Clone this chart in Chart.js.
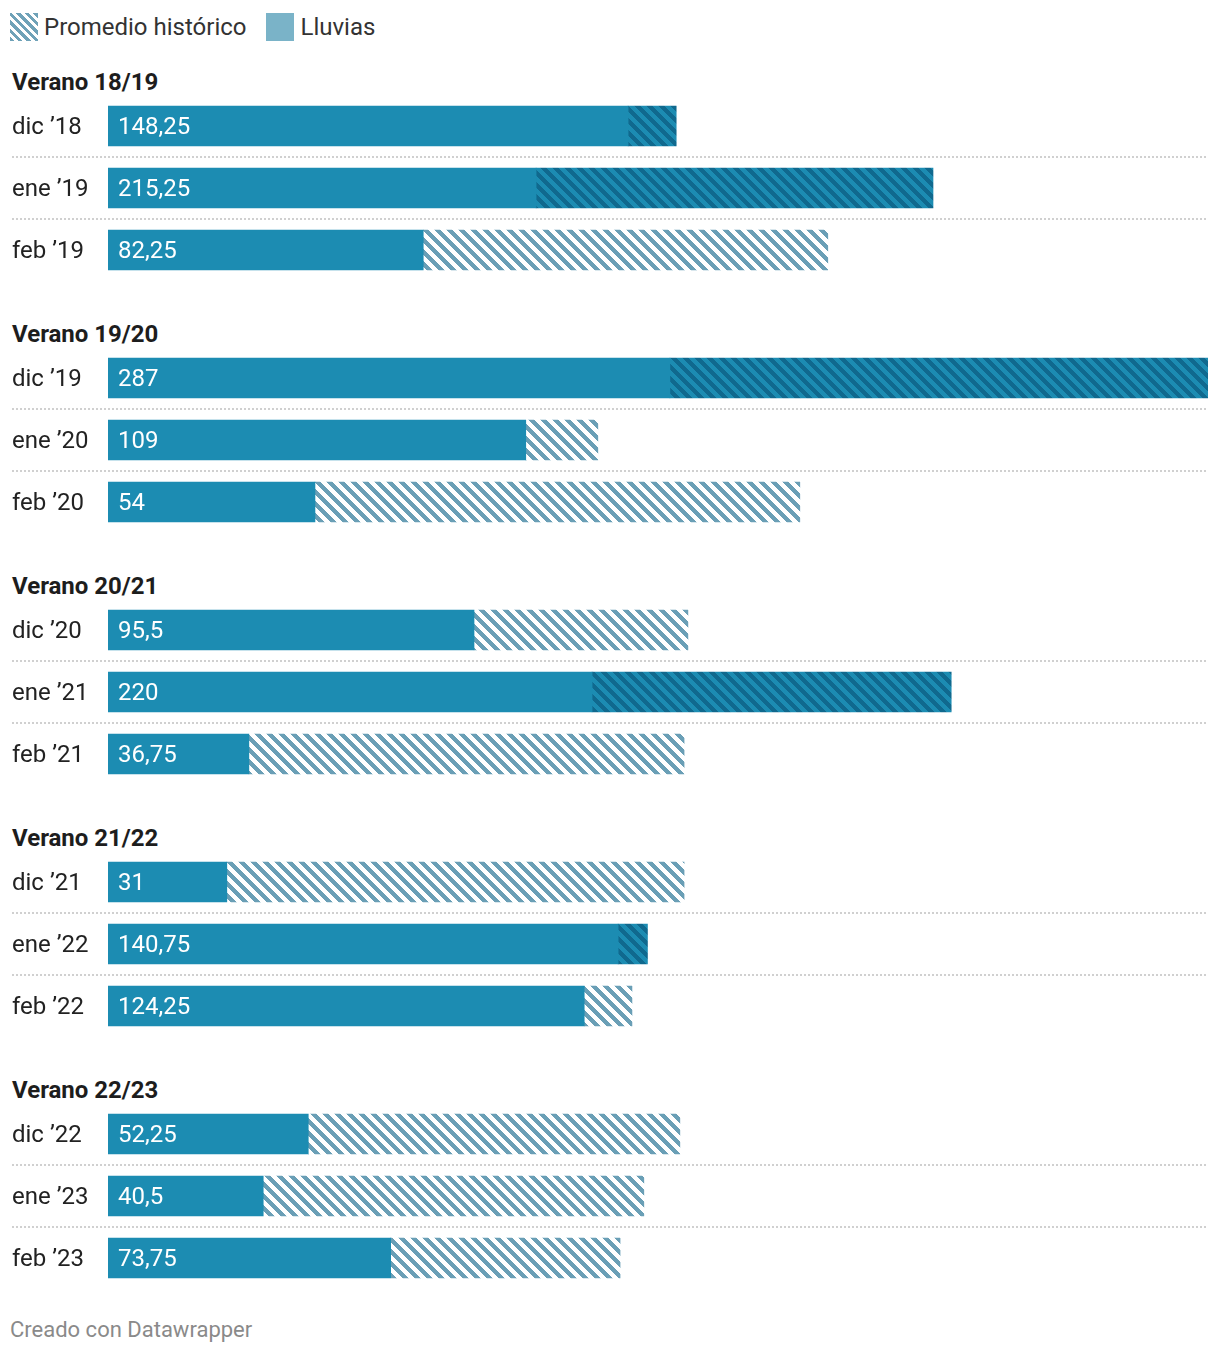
<!DOCTYPE html>
<html lang="es">
<head>
<meta charset="UTF-8">
<title>Lluvias y promedio histórico</title>
<script src="https://cdn.jsdelivr.net/npm/chart.js"></script>
<style>
  body { margin: 0; background: #fff; font-family: Roboto, "Noto Sans", sans-serif; color: #222; }
  .wrap { width: 1196px; padding-left: 12px; }
  .legend { display: flex; align-items: center; height: 28px; margin-top: 13px; margin-left: -2px; font-size: 24px; color: #333; }
  .legend .sw { width: 28px; height: 28px; margin-right: 6px; }
  .legend .item { display: flex; align-items: center; margin-right: 20px; }
  .hatch { background: repeating-linear-gradient(45deg, #6fa2b8 0 3px, #fff 3px 6px); }
  .solid { background: #7ab3c8; }
  .season { font-weight: 700; font-size: 24px; line-height: 26px; height: 26px; margin-top: 40px; color: #1d1d1d; }
  .season.first { margin-top: 28px; }
  .chart-box { position: relative; width: 1196px; height: 186px; }
  .footer { margin-top: 28px; font-size: 22px; line-height: 26px; color: #8a8a8a; margin-left: -2px; }
</style>
</head>
<body>
<div class="wrap">
  <div class="legend">
    <div class="item"><div class="sw hatch"></div>Promedio histórico</div>
    <div class="item"><div class="sw solid"></div>Lluvias</div>
  </div>
  <div id="groups"></div>
  <div class="footer">Creado con Datawrapper</div>
</div>

<script>
  // Data
  const seasons = ['Verano 18/19', 'Verano 19/20', 'Verano 20/21', 'Verano 21/22', 'Verano 22/23'];
  const months = [
    'dic ’18', 'ene ’19', 'feb ’19',
    'dic ’19', 'ene ’20', 'feb ’20',
    'dic ’20', 'ene ’21', 'feb ’21',
    'dic ’21', 'ene ’22', 'feb ’22',
    'dic ’22', 'ene ’23', 'feb ’23'
  ];
  const lluvias = [148.25, 215.25, 82.25, 287, 109, 54, 95.5, 220, 36.75, 31, 140.75, 124.25, 52.25, 40.5, 73.75];
  const promedio = [135.7, 111.7, 187.8, 146.6, 127.8, 180.5, 151.3, 126.3, 150.3, 150.3, 133.1, 136.7, 149.2, 139.8, 133.6];
  const xMax = 287;

  const barBlue = '#1c8cb2';

  // diagonal stripe pattern, "\" direction, 12px period
  function makePattern(bg, stripe) {
    const c = document.createElement('canvas');
    c.width = 12; c.height = 12;
    const g = c.getContext('2d');
    g.fillStyle = bg;
    g.fillRect(0, 0, 12, 12);
    g.fillStyle = stripe;
    for (let y = 0; y < 12; y++) {
      for (let x = 0; x < 12; x++) {
        if (((x - y) % 12 + 12) % 12 < 6) g.fillRect(x, y, 1, 1);
      }
    }
    return g.createPattern(c, 'repeat');
  }
  const lightHatch = makePattern('#ffffff', '#6a9fb6');
  const darkHatch = makePattern(barBlue, '#10698e');

  const fmt = v => String(v).replace('.', ',');

  // dotted row separators + value labels inside the bars
  const rowDecor = {
    id: 'rowDecor',
    beforeDatasetsDraw(chart) {
      const ctx = chart.ctx;
      const y = chart.scales.y;
      ctx.save();
      ctx.strokeStyle = '#d0d0d0';
      ctx.lineWidth = 2;
      ctx.setLineDash([2, 2]);
      for (let i = 0; i < chart.data.labels.length - 1; i++) {
        const py = Math.round((y.getPixelForValue(i) + y.getPixelForValue(i + 1)) / 2);
        ctx.beginPath();
        ctx.moveTo(0, py);
        ctx.lineTo(chart.width, py);
        ctx.stroke();
      }
      ctx.restore();
    },
    afterDatasetsDraw(chart) {
      const ctx = chart.ctx;
      const meta = chart.getDatasetMeta(0);
      const vals = chart.options.plugins.rowDecor.values;
      ctx.save();
      ctx.fillStyle = '#fff';
      ctx.font = '24px Roboto, sans-serif';
      ctx.textBaseline = 'middle';
      meta.data.forEach((bar, i) => {
        ctx.fillText(fmt(vals[i]), chart.chartArea.left + 10, bar.y + 2);
      });
      ctx.restore();
    }
  };

  const holder = document.getElementById('groups');

  seasons.forEach((season, s) => {
    const labels = months.slice(s * 3, s * 3 + 3);
    const ll = lluvias.slice(s * 3, s * 3 + 3);
    const pr = promedio.slice(s * 3, s * 3 + 3);

    const head = document.createElement('div');
    head.className = 'season' + (s === 0 ? ' first' : '');
    head.textContent = season;
    holder.appendChild(head);

    const box = document.createElement('div');
    box.className = 'chart-box';
    const cv = document.createElement('canvas');
    box.appendChild(cv);
    holder.appendChild(box);

    new Chart(cv, {
      type: 'bar',
      data: {
        labels: labels,
        datasets: [
          {
            label: 'Lluvias',
            data: ll.map((v, i) => Math.min(v, pr[i])),
            backgroundColor: barBlue,
            grouped: false,
            barThickness: 40
          },
          {
            label: 'Promedio histórico',
            data: ll.map((v, i) => [Math.min(v, pr[i]), Math.max(v, pr[i])]),
            backgroundColor: ll.map((v, i) => v > pr[i] ? darkHatch : lightHatch),
            grouped: false,
            barThickness: 40
          }
        ]
      },
      options: {
        indexAxis: 'y',
        responsive: true,
        maintainAspectRatio: false,
        animation: false,
        layout: { padding: 0 },
        plugins: {
          legend: { display: false },
          tooltip: { enabled: false },
          rowDecor: { values: ll }
        },
        scales: {
          x: { min: 0, max: xMax, display: false },
          y: {
            grid: { display: false },
            border: { display: false },
            ticks: {
              crossAlign: 'far',
              color: '#222',
              padding: 0,
              labelOffset: 2,
              font: { family: 'Roboto', size: 24 }
            },
            afterFit(scale) {
              scale.width = 96;
              scale.paddingTop = 0;
              scale.paddingBottom = 0;
            }
          }
        }
      },
      plugins: [rowDecor]
    });
  });
</script>
</body>
</html>
